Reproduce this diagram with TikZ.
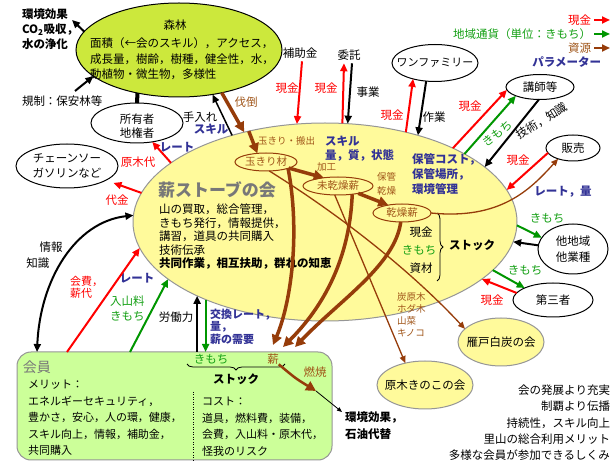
\documentclass[tikz,border=0pt]{standalone}
\usepackage{fontspec}
\setmainfont{Noto Sans CJK JP}
\usetikzlibrary{arrows.meta,shapes.geometric,decorations.pathreplacing,calc}
\definecolor{cRed}{RGB}{255,0,0}
\definecolor{cGreen}{RGB}{0,150,0}
\definecolor{cGreenT}{RGB}{20,160,20}
\definecolor{cBrown}{RGB}{150,60,10}
\definecolor{cBrownT}{RGB}{160,85,25}
\definecolor{cBlue}{RGB}{50,50,150}
\definecolor{cForest}{RGB}{204,232,60}
\definecolor{cYellow}{RGB}{255,250,155}
\definecolor{cMember}{RGB}{204,255,153}
\definecolor{cGrayT}{RGB}{120,120,120}
\definecolor{cBorder}{RGB}{150,150,150}
\begin{document}
\begin{tikzpicture}[x=1pt,y=-1pt, font=\fontsize{11.5}{14}\selectfont,
  lbl/.style={inner sep=0pt, outer sep=0pt},
  ell/.style={ellipse, draw, line width=1pt, inner sep=0pt, outer sep=0pt},
  redT/.style={lbl, text=cRed},
  grnT/.style={lbl, text=cGreenT},
  brnT/.style={lbl, text=cBrownT},
  bluT/.style={lbl, text=cBlue, font=\bfseries\fontsize{11.5}{14}\selectfont},
  smallbrn/.style={brnT, font=\fontsize{9.5}{12}\selectfont},
  arw/.style={line width=2pt, -{Triangle[length=8pt,width=7pt]}},
  arwB/.style={line width=3.5pt, draw=cBrown, -{Triangle[length=10pt,width=10pt]}},
  arwT/.style={line width=1.3pt, draw=cBrown, -{Triangle[length=7pt,width=6pt]}}]
\fill[white] (0,0) rectangle (611,462);
\useasboundingbox (0,0) rectangle (611,462);

% ---------- shapes ----------
\node[ell, minimum width=206, minimum height=94, fill=cForest] (forest) at (179,50) {};
\node[ell, draw=cBorder, minimum width=384, minimum height=198, fill=cYellow] (kai) at (325,222) {};
\node[ell, minimum width=92, minimum height=40, fill=white] (owner) at (137,123) {};
\node[ell, minimum width=102, minimum height=44, fill=white] (chain) at (67,166) {};
\node[ell, minimum width=86, minimum height=37, fill=white] (onefam) at (435,63) {};
\node[ell, minimum width=68, minimum height=25, fill=white] (koshi) at (540,87) {};
\node[ell, minimum width=54, minimum height=26, fill=white] (hanbai) at (573,148) {};
\node[ell, minimum width=70, minimum height=50, fill=white] (tachi) at (573,249) {};
\node[ell, minimum width=80, minimum height=34, fill=white] (daisan) at (553,300) {};
\node[ell, draw=cBorder, minimum width=86, minimum height=48, fill=cYellow] (ganto) at (501,342) {};
\node[ell, draw=cBorder, minimum width=96, minimum height=48, fill=cYellow] (genboku) at (425,385) {};
\node[ell, draw=cBrown, minimum width=62, minimum height=18] (tama) at (266,162) {};
\node[ell, draw=cBrown, minimum width=70, minimum height=18] (mika) at (338,186) {};
\node[ell, draw=cBrown, minimum width=58, minimum height=18] (kanso) at (402,213) {};
\node[draw=cBorder, line width=1pt, fill=cMember, rounded corners=14pt, minimum width=315, minimum height=108, anchor=north west, inner sep=0pt, outer sep=0pt] (kaiin) at (17,352) {};

% ---------- text ----------
\node[lbl] (forestT) at (175,25) {森林};
\node[lbl, anchor=north west, align=left, font=\fontsize{11.5}{15.5}\selectfont] (forestB) at (90,38) {面積（←会のスキル），アクセス，\\成長量，樹齢，樹種，健全性，水，\\動植物・微生物，多様性};
\node[lbl, anchor=north west, align=left, font=\bfseries\fontsize{11.5}{15}\selectfont] (envA) at (22,9) {環境効果\\CO\textsubscript{2}吸収，\\水の浄化};
\node[lbl, anchor=west] (kisei) at (22,101) {規制：保安林等};
\node[lbl, align=center, font=\fontsize{11.5}{13.5}\selectfont] (ownerT) at (137,126) {所有者\\地権者};
\node[lbl, align=center, font=\fontsize{11.5}{14.5}\selectfont] (chainT) at (67,166) {チェーンソー\\ガソリンなど};
\node[lbl, font=\fontsize{11}{13}\selectfont] (onefamT) at (435,63) {ワンファミリー};
\node[lbl] (koshiT) at (540,87) {講師等};
\node[lbl] (hanbaiT) at (573,148) {販売};
\node[lbl, align=center, font=\fontsize{11.5}{16}\selectfont] (tachiT) at (573,249) {他地域\\他業種};
\node[lbl] (daisanT) at (553,300) {第三者};
\node[lbl] (gantoT) at (501,342) {雁戸白炭の会};
\node[lbl] (genbokuT) at (425,385) {原木きのこの会};
\node[brnT, font=\fontsize{10.5}{13}\selectfont] (tamaT) at (266,162) {玉きり材};
\node[brnT, font=\fontsize{10.5}{13}\selectfont] (mikaT) at (338,186) {未乾燥薪};
\node[brnT, font=\fontsize{10.5}{13}\selectfont] (kansoT) at (402,213) {乾燥薪};

\node[lbl, anchor=west, text=cGrayT, font=\bfseries\fontsize{17}{20}\selectfont] (title) at (158,190) {薪ストーブの会};
\node[lbl, anchor=north west, align=left, font=\fontsize{11.5}{13.5}\selectfont] (body) at (159,204) {山の買取，総合管理，\\きもち発行，情報提供，\\講習，道具の共同購入\\技術伝承\\\textbf{共同作業，相互扶助，群れの知恵}};
\node[smallbrn, anchor=west] (hanshutsu) at (258,141) {玉きり・搬出};
\node[smallbrn, anchor=west] (kako) at (317,167) {加工};
\node[smallbrn, anchor=north west, align=left, font=\fontsize{9.5}{14}\selectfont] (hokan) at (377,172) {保管\\乾燥};
\node[smallbrn, anchor=north west, align=left, font=\fontsize{9.5}{11.7}\selectfont] (tanbok) at (397,293) {炭原木\\ホダ木\\山菜\\キノコ};
\node[bluT, anchor=west] (skill2) at (325,141) {スキル};
\node[bluT, anchor=west] (ryo) at (325,155) {量，質，状態};
\node[bluT, anchor=north west, align=left, font=\bfseries\fontsize{11.5}{15}\selectfont] (hokanC) at (412,154) {保管コスト，\\保管場所，\\環境管理};
\node[lbl] (sGenkin) at (421,232) {現金};
\node[grnT] (sKimochi) at (419,250) {きもち};
\node[lbl] (sShizai) at (421,268) {資材};
\node[lbl, font=\bfseries\fontsize{11.5}{14}\selectfont] (stock1) at (472,245) {ストック};
\draw[line width=0.8pt, decorate, decoration={brace, amplitude=6pt}] (437,213) -- (437,281);

% member box
\node[lbl, anchor=west, text=cGrayT, font=\fontsize{14}{16}\selectfont] (kaiinT) at (23,367) {会員};
\node[lbl, anchor=north west, align=left, font=\fontsize{11}{16.5}\selectfont] (merit) at (28,380) {メリット：\\エネルギーセキュリティ，\\豊かさ，安心，人の環，健康，\\スキル向上，情報，補助金，\\共同購入};
\node[lbl, anchor=north west, align=left, font=\fontsize{11}{16.7}\selectfont] (cost) at (202,397) {コスト：\\道具，燃料費，装備，\\会費，入山料・原木代，\\怪我のリスク};
\draw[line width=1pt, dash pattern=on 1pt off 1.5pt] (193,392) -- (193,460);
\node[grnT] (kimochiS) at (211,359) {きもち};
\node[brnT] (maki) at (273,359) {薪};
\draw[line width=0.8pt, decorate, decoration={brace, amplitude=6pt}] (285,364) -- (187,364);
\node[lbl, font=\bfseries\fontsize{11.5}{14}\selectfont] (stock2) at (236,379) {ストック};
\node[brnT] (nensho) at (315,372) {燃焼};
\node[lbl, anchor=north west, align=left, font=\bfseries\fontsize{11.5}{17}\selectfont] (envB) at (345,412) {環境効果，\\石油代替};

% right-bottom motto
\node[lbl, anchor=north east, align=right, font=\fontsize{11.5}{16.2}\selectfont] (motto) at (610,385) {会の発展より充実\\制覇より伝播\\持続性，スキル向上\\里山の総合利用メリット\\多様な会員が参加できるしくみ};

% legend
\node[redT, anchor=east] (lgCash) at (591,20) {現金};
\node[grnT, anchor=east] (lgKim) at (591,34) {地域通貨（単位：きもち）};
\node[brnT, anchor=east] (lgRes) at (591,48) {資源};
\node[bluT, anchor=east] (lgParam) at (601,62) {パラメーター};
\coordinate (lgCashE) at (610,20);
\coordinate (lgKimE) at (610,34);
\coordinate (lgResE) at (610,48);
\draw[arw, cRed] ([xshift=3pt]lgCash.east) -- (lgCashE);
\draw[arw, cGreen] ([xshift=3pt]lgKim.east) -- (lgKimE);
\draw[arw, cBrown] ([xshift=3pt]lgRes.east) -- (lgResE);

% labels on connectors
\node[brnT] (batto) at (246,102) {伐倒};
\node[lbl] (teire) at (200,117) {手入れ};
\node[bluT] (skill1) at (211,129) {スキル};
\node[redT] (genbokudai) at (138,162) {原木代};
\node[bluT] (rate1) at (177,147) {レート};
\node[redT] (daikin) at (117,200) {代金};
\node[lbl] (joho) at (51,247) {情報};
\node[lbl] (chishiki) at (38,263) {知識};
\node[redT, anchor=north west, align=left, font=\fontsize{11}{12.5}\selectfont] (fee) at (70,276) {会費，\\薪代};
\node[bluT] (rate2) at (137,278) {レート};
\node[grnT, anchor=north west, align=left, font=\fontsize{11.5}{15}\selectfont] (entry) at (110,296) {入山料\\きもち};
\node[lbl] (rodo) at (176,317) {労働力};
\node[bluT, anchor=north west, align=left, font=\bfseries\fontsize{11}{12.5}\selectfont] (kokan) at (210,309) {交換レート，\\量，\\薪の需要};
\node[lbl] (hojo) at (300,53) {補助金};
\node[lbl] (itaku) at (349,55) {委託};
\node[redT] (c1) at (287,88) {現金};
\node[redT] (c2) at (326,88) {現金};
\node[lbl] (jigyo) at (368,92) {事業};
\node[redT] (c3) at (392,115) {現金};
\node[lbl] (sagyo) at (434,117) {作業};
\node[redT] (c4) at (470,106) {現金};
\node[grnT, rotate=38] (k1) at (497,134) {きもち};
\node[lbl, rotate=32] (gijutsu) at (542,121) {技術，知識};
\node[redT] (c5) at (518,160) {現金};
\node[bluT] (rate3) at (563,192) {レート，量};
\node[grnT] (k2) at (547,218) {きもち};
\node[grnT] (k3) at (525,270) {きもち};
\node[redT] (c6) at (492,300) {現金};

% ---------- connectors ----------
\coordinate (envTip) at (72,20);
\coordinate (kiseiTail) at (75,91);
\draw[arw] (forest.169) -- (envTip);
\draw[arw] (kiseiTail) -- (forest.197);
\draw[line width=4pt] (forest.226) -- (owner.north);
\draw[arwB] (forest.315) -- (kai.132);
\draw[arwB] (kai.130) -- (tama.135);
\draw[arw, line width=1.5pt] (kai.137) -- (forest.307);
\draw[arw, cRed] (kai.159) -- (owner.309);
\draw[arw, cRed, shorten >=8pt] (kai.171) -- (chain.340);
\coordinate (kaiinInfo) at ($(kaiin.north west)+(20,0)$);
\coordinate (kaiinFee) at ($(kaiin.north west)+(50,0)$);
\coordinate (kaiinEntry) at ($(kaiin.north west)+(113,0)$);
\draw[line width=2pt, {Triangle[length=8pt,width=7pt]}-{Triangle[length=8pt,width=7pt]}] (kaiinInfo) .. controls (40,280) and (75,222) .. (kai.178);
\draw[arw, cRed] (kaiinFee) -- (kai.188);
\draw[arw, cGreen] (kaiinEntry) -- (kai.200);
\draw[arw] (kai.210 |- kaiin.north) -- (kai.210);
\draw[arw, cGreen] (kai.213) -- (kai.213 |- kaiin.north);

\draw[arw, cRed] ([xshift=2pt,yshift=-3pt]hojo.south) -- (kai.106);
\draw[arw, cRed] (kai.80) -- ([xshift=-5pt,yshift=-3pt]itaku.south);
\draw[arw] ([xshift=3pt,yshift=-3pt]itaku.south) -- (kai.77);
\draw[arw, cRed] (kai.48) -- (onefam.216);
\draw[arw] (onefam.244) -- (kai.43);
\draw[arw, cRed] (kai.30) -- (koshi.185);
\draw[arw, cGreen] (kai.26) -- (koshi.200);
\draw[arw] (koshi.265) -- (kai.19);
\draw[arw, cRed] (hanbai.191) -- (kai.10);
\draw[arw, cGreen] (kai.359) -- (tachi.160);
\draw[arw] (tachi.174) -- (kai.354);
\draw[arw, cGreen] (kai.344) -- (daisan.157);
\draw[arw, cRed] (daisan.169) -- (kai.340);

% resources (brown)
\draw[arwB] (tama.345) -- (mika.150);
\draw[arwB] (mika.340) -- (kanso.150);
\coordinate (makiIn1) at ($(maki)+(0,-14)$);
\coordinate (makiIn2) at ($(maki)+(10,-12)$);
\coordinate (makiIn3) at ($(maki)+(22,-12)$);
\draw[arwB] (tama.344) .. controls (300,230) and (292,300) .. (makiIn1);
\draw[arwB] (mika.330) .. controls (350,250) and (330,300) .. (makiIn2);
\draw[arwB] (kanso.262) .. controls (395,265) and (340,300) .. (makiIn3);
\draw[arwT] (tama.290) .. controls (340,215) and (410,270) .. (ganto.160);
\draw[arwT] (mika.250) -- (genboku.132);
\draw[arwT] (kanso.east) .. controls (500,220) and (530,190) .. (hanbai.216);
\coordinate (burnTip) at (316,391);
\draw[arwB, line width=2.5pt] (maki.south east) .. controls (295,378) .. (burnTip);
\draw[line width=0.8pt, -{Triangle[length=5pt,width=4pt]}] (burnTip) -- ([xshift=-3pt]envB.north west);
\end{tikzpicture}
\end{document}
